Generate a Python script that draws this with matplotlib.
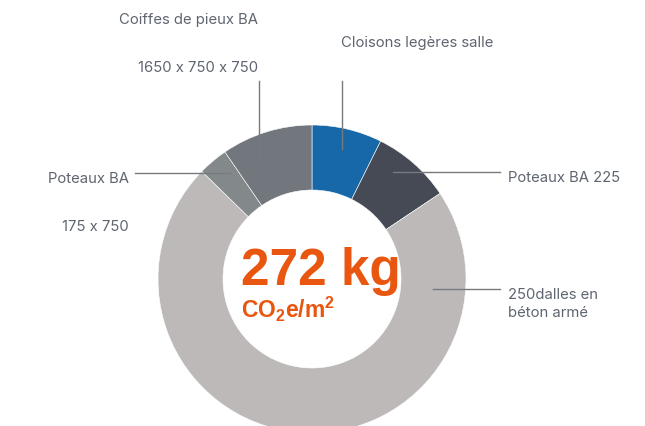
import matplotlib
matplotlib.use('Agg')
import matplotlib.pyplot as plt

# kg CO2e/m2 per lot, clockwise from the top
labels = ['Cloisons legères salle', 'Poteaux BA 225', '250dalles en béton armé',
          'Poteaux BA', 'Coiffes de pieux BA']
values = [20, 22.5, 195, 8.5, 26]
colors = ['#1668a8', '#464a55', '#bdb9b9', '#83888b', '#72767d']
total_txt = '272 kg'
unit_txt = r'CO$_\mathbf{2}$e/m$^\mathbf{2}$'

plt.rcParams['mathtext.fontset'] = 'custom'
plt.rcParams['mathtext.rm'] = 'Liberation Sans:bold'
plt.rcParams['mathtext.bf'] = 'Liberation Sans:bold'
plt.rcParams['mathtext.it'] = 'Liberation Sans:bold'

W, H = 645, 426
fig = plt.figure(figsize=(W / 100, H / 100), dpi=100)
ax = fig.add_axes([0, 0, 1, 1])

cx, cy, R, r = 312, H - 279, 154, 89
ax.pie(values, colors=colors, startangle=90, counterclock=False,
       center=(cx, cy), radius=R, frame=True,
       wedgeprops=dict(width=R - r, edgecolor='white', linewidth=0.4))
ax.set_xlim(0, W); ax.set_ylim(0, H)
ax.axis('off')

orange = '#e8560f'
ax.text(241, H - 285, total_txt, ha='left', va='baseline', color=orange,
        fontsize=37, fontweight='bold', family='Liberation Sans')
ax.text(241, H - 318, unit_txt, ha='left', va='baseline', color=orange,
        fontsize=16.5, fontweight='bold', family='Liberation Sans')

tc = '#5f6570'; lc = '#76797e'
fs = 10.7
kw = dict(color=tc, fontsize=fs, family='Inter', va='center')
ax.text(258, H - 20, 'Coiffes de pieux BA', ha='right', **kw)
ax.text(258, H - 68, '1650 x 750 x 750', ha='right', **kw)
ax.text(341, H - 43, labels[0], ha='left', **kw)
ax.text(129, H - 179, labels[3], ha='right', **kw)
ax.text(129, H - 227, '175 x 750', ha='right', **kw)
ax.text(508, H - 178, labels[1], ha='left', **kw)
ax.text(508, H - 295, '250dalles en', ha='left', **kw)
ax.text(508, H - 313, 'béton armé', ha='left', **kw)

# leader lines
ax.plot([259, 259], [H - 81, H - 156], color=lc, lw=1)
ax.plot([342, 342], [H - 81, H - 149], color=lc, lw=1)
ax.plot([393, 500], [H - 172, H - 172], color=lc, lw=1)
ax.plot([135, 230], [H - 173, H - 173], color=lc, lw=1)
ax.plot([433, 500], [H - 289, H - 289], color=lc, lw=1)

plt.savefig('out.png', dpi=100)
plt.close()
